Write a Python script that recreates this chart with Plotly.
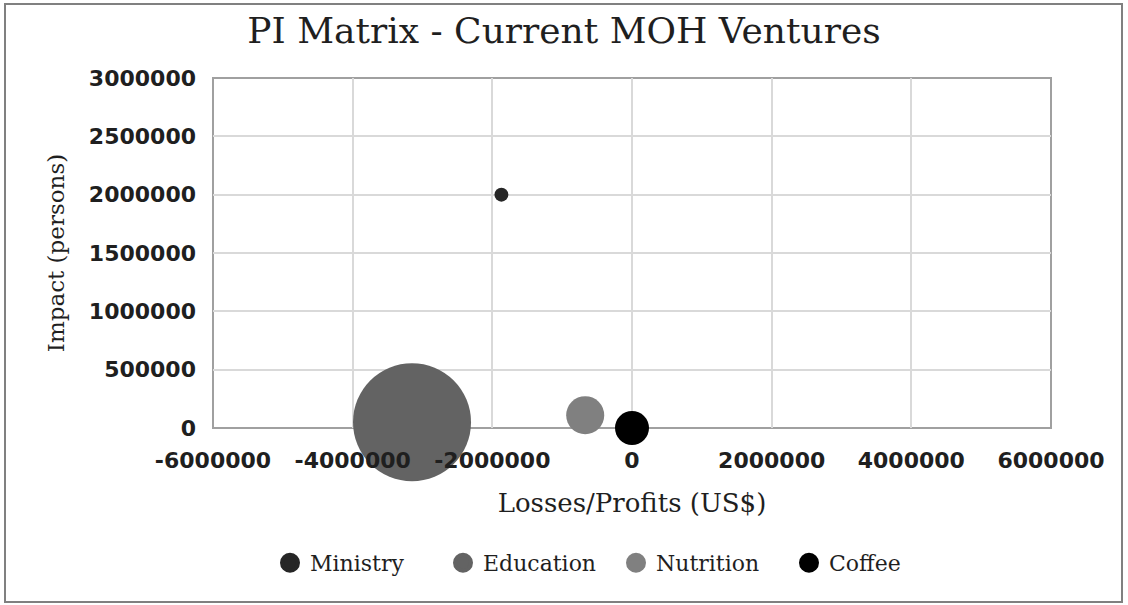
import plotly.graph_objects as go

# ---- data ----
ventures = ["Ministry", "Education", "Nutrition", "Coffee"]
losses_profits = [-1870000, -3150000, -670000, 0]      # US$
impact_persons = [2000000, 50000, 110000, 0]           # persons
bubble_values = [1.4, 100, 10.4, 8.3]                  # relative bubble size
colors = ["#262626", "#636363", "#808080", "#000000"]

x_ticks = [-6000000, -4000000, -2000000, 0, 2000000, 4000000, 6000000]
y_ticks = [0, 500000, 1000000, 1500000, 2000000, 2500000, 3000000]

W, H = 1128, 605
ML, MR, MT, MB = 213, 77, 78, 177
max_diam = 118
sizeref = 2.0 * max(bubble_values) / (max_diam ** 2)

fig = go.Figure()
for name, xv, yv, sv, c in zip(ventures, losses_profits, impact_persons, bubble_values, colors):
    fig.add_trace(go.Scatter(
        x=[xv], y=[yv], mode="markers", name=name, showlegend=False,
        legendgroup=name,
        marker=dict(size=[sv], sizemode="area", sizeref=sizeref, color=c,
                    opacity=1, line=dict(width=0)),
        cliponaxis=False,
    ))
# legend entries (uniform symbol size like the original)
for name, c in zip(ventures, colors):
    fig.add_trace(go.Scatter(
        x=[None], y=[None], mode="markers", name=name, legendgroup=name,
        marker=dict(size=16, color=c, line=dict(width=4, color=c)),
    ))

serif = "DejaVu Serif"
sans = "DejaVu Sans"
textc = "#1f1f1f"

# outer frame around whole figure, in paper coords
pw = W - ML - MR
ph = H - MT - MB
x0 = -(ML - 5) / pw
x1 = 1 + (MR - 6) / pw
y0 = -(MB - 3) / ph
y1 = 1 + (MT - 4) / ph

fig.update_layout(
    width=W, height=H,
    margin=dict(l=ML, r=MR, t=MT, b=MB),
    paper_bgcolor="white", plot_bgcolor="white",
    title=dict(text="PI Matrix - Current MOH Ventures",
               font=dict(family=serif, size=36, color=textc),
               x=0.5, xanchor="center", y=1 - 30 / H, yanchor="middle"),
    xaxis=dict(range=[-6000000, 6000000], tickvals=x_ticks,
               ticktext=[str(v) for v in x_ticks],
               showgrid=True, gridcolor="#d9d9d9", gridwidth=1.5,
               zeroline=False, showline=False,
               ticks="", ticklabelstandoff=17,
               tickfont=dict(family=sans, size=22, color=textc, weight="bold"),
               title=dict(text="Losses/Profits (US$)",
                          font=dict(family=serif, size=26, color=textc),
                          standoff=21)),
    yaxis=dict(range=[0, 3000000], tickvals=y_ticks,
               ticktext=[str(v) for v in y_ticks],
               showgrid=True, gridcolor="#d9d9d9", gridwidth=1.5,
               zeroline=False, showline=False,
               ticks="", ticklabelstandoff=16,
               tickfont=dict(family=sans, size=22, color=textc, weight="bold"),
               title=dict(text="Impact (persons)",
                          font=dict(family=serif, size=23, color=textc),
                          standoff=17)),
    legend=dict(orientation="h", x=0.5 - 16 / pw, xanchor="center",
                y=-(563 - 428) / ph, yanchor="middle",
                font=dict(family=serif, size=22, color=textc),
                itemsizing="trace", itemwidth=30,
                entrywidth=128, entrywidthmode="pixels",
                traceorder="normal"),
    shapes=[
        dict(type="rect", xref="paper", yref="paper", x0=0, x1=1, y0=0, y1=1,
             line=dict(color="#a0a0a0", width=2), layer="below"),
        dict(type="rect", xref="paper", yref="paper", x0=x0, x1=x1, y0=y0, y1=y1,
             line=dict(color="#808080", width=2), layer="below"),
    ],
)

fig.write_html("out.html", config={"displayModeBar": False},
               post_script="document.body.style.margin='0';")
